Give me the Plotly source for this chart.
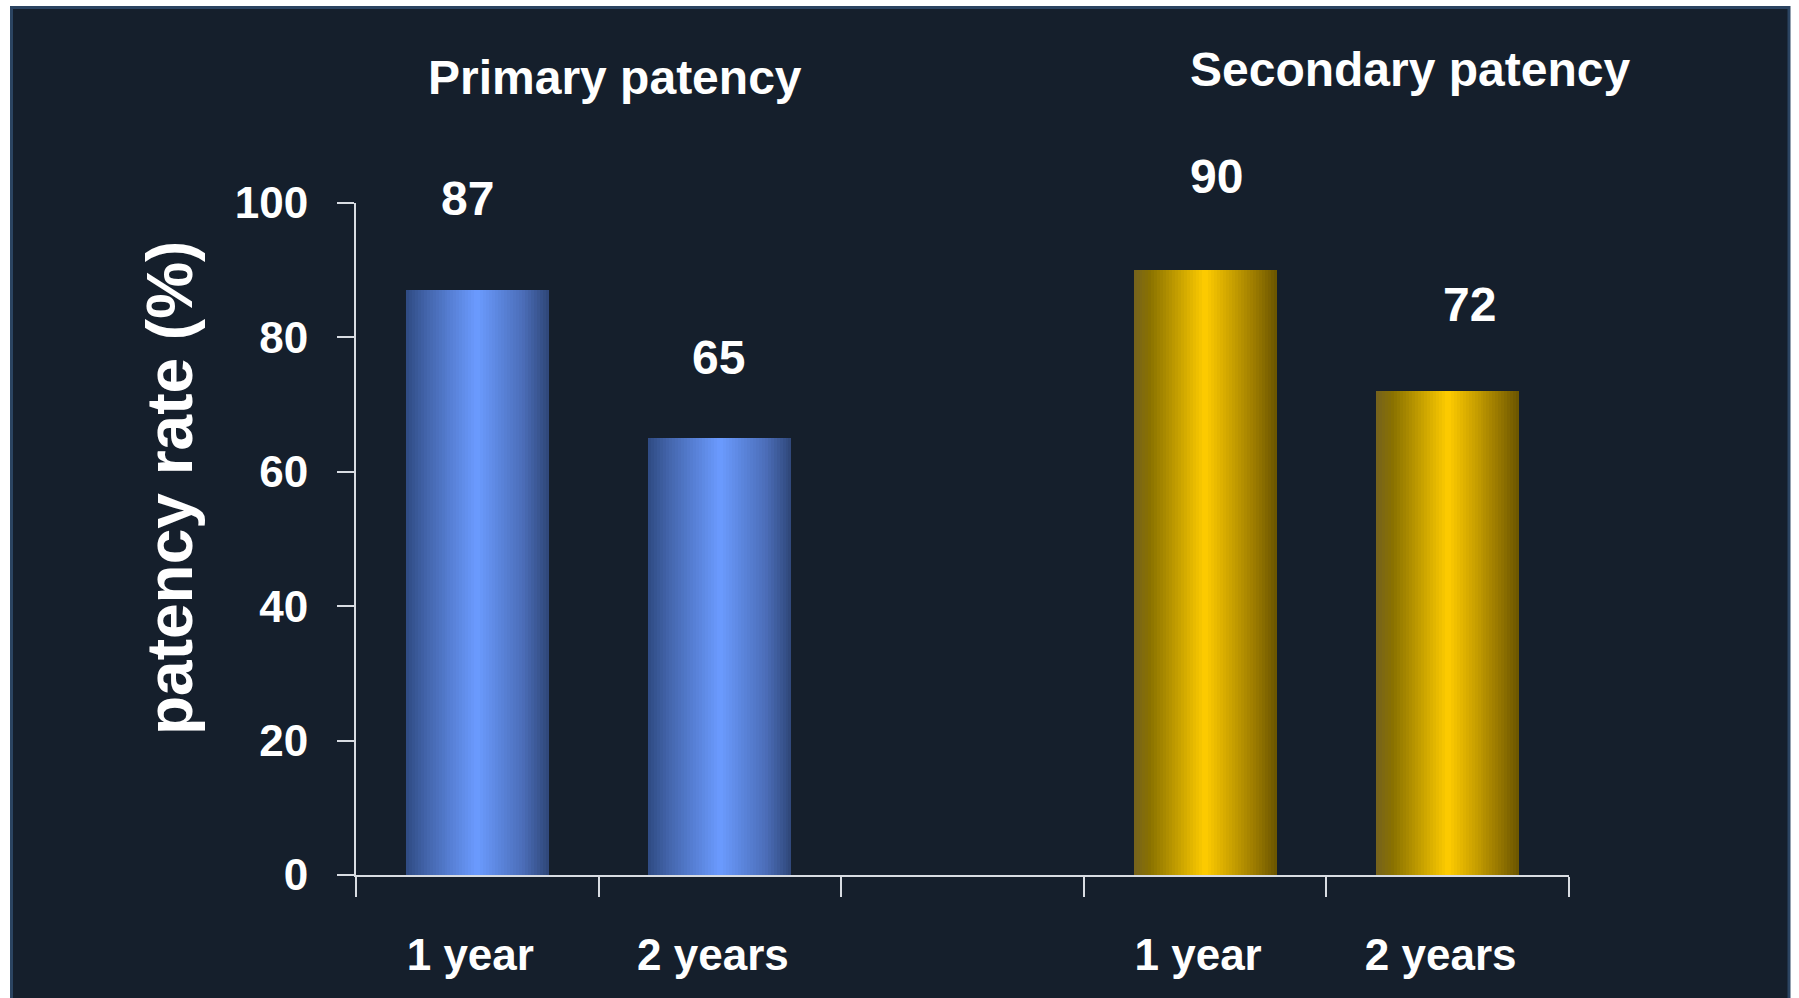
import plotly.graph_objects as go
from plotly.colors import sample_colorscale

# ---- data ----
groups = ["Primary patency", "Secondary patency"]
periods = ["1 year", "2 years"]
primary = [87, 65]
secondary = [90, 72]
y_ticks = [0, 20, 40, 60, 80, 100]

# ---- layout constants ----
W, H = 1799, 998
M_L, M_R, M_T, M_B = 356, 230, 203, 123
PLOT_W = W - M_L - M_R
PLOT_H = H - M_T - M_B

BG = "#151f2c"
AXIS = "#d8dce2"
FONT = "Liberation Sans, Arial, sans-serif"

BLUE_SCALE = [[0.0, "#2f4a82"], [0.15, "#4466ad"], [0.5, "#6b9bff"],
              [0.82, "#4b6db8"], [1.0, "#2e4677"]]
GOLD_SCALE = [[0.0, "#75621e"], [0.12, "#8a7200"], [0.5, "#ffcc00"],
              [0.85, "#9a7a00"], [1.0, "#6a5400"]]

BAR_W = 0.59
N_STRIPS = 48

# category slots: two groups separated by an empty slot
x_primary = [0, 1]
x_secondary = [3, 4]


def px_to_paper_x(px):
    return (px - M_L) / PLOT_W


def px_to_paper_y(py):
    return (H - M_B - py) / PLOT_H


fig = go.Figure()

# each bar is built from thin vertical strips to give a cylinder-like shading
for xs, vals, scale in [(x_primary, primary, BLUE_SCALE),
                        (x_secondary, secondary, GOLD_SCALE)]:
    colors = sample_colorscale(scale, [(j + 0.5) / N_STRIPS for j in range(N_STRIPS)])
    sw = BAR_W / N_STRIPS
    for j, c in enumerate(colors):
        fig.add_trace(go.Bar(
            x=xs, y=vals,
            width=[sw * 1.15 if j < N_STRIPS - 1 else sw] * len(xs),
            offset=[-BAR_W / 2 + j * sw] * len(xs),
            marker=dict(color=c, line=dict(width=0)),
            showlegend=False, hoverinfo="skip",
        ))

# value labels above bars
label_xshift = [-10, -1, 11, 22]
label_yshift = [92, 81, 94, 87]
for k, (x, v) in enumerate(zip(x_primary + x_secondary, primary + secondary)):
    fig.add_annotation(
        x=x, y=v, xref="x", yref="y", text=f"<b>{v}</b>", showarrow=False,
        xanchor="center", yanchor="middle",
        xshift=label_xshift[k], yshift=label_yshift[k],
        font=dict(family=FONT, size=48, color="white"),
    )

# group titles
fig.add_annotation(x=px_to_paper_x(615), y=px_to_paper_y(77), xref="paper", yref="paper",
                   text=f"<b>{groups[0]}</b>", showarrow=False,
                   xanchor="center", yanchor="middle",
                   font=dict(family=FONT, size=48, color="white"))
fig.add_annotation(x=px_to_paper_x(1410), y=px_to_paper_y(70), xref="paper", yref="paper",
                   text=f"<b>{groups[1]}</b>", showarrow=False,
                   xanchor="center", yanchor="middle",
                   font=dict(family=FONT, size=48, color="white"))

# y-axis title
fig.add_annotation(x=px_to_paper_x(170), y=px_to_paper_y(488), xref="paper", yref="paper",
                   text="<b>patency rate (%)</b>", showarrow=False, textangle=-90,
                   xanchor="center", yanchor="middle",
                   font=dict(family=FONT, size=64, color="white"))

# frame: white margin at top/left/right and a steel-blue edge
white_rects = [
    (0, 0, W, 6),
    (0, 0, 10, H),
    (1790, 0, W, H),
]
for x0, y0, x1, y1 in white_rects:
    fig.add_shape(type="rect", xref="paper", yref="paper",
                  x0=px_to_paper_x(x0), x1=px_to_paper_x(x1),
                  y0=px_to_paper_y(y1), y1=px_to_paper_y(y0),
                  fillcolor="white", line=dict(width=0), layer="below")
fig.add_shape(type="rect", xref="paper", yref="paper",
              x0=px_to_paper_x(11.5), x1=px_to_paper_x(1789),
              y0=px_to_paper_y(1005), y1=px_to_paper_y(7.5),
              fillcolor="rgba(0,0,0,0)", line=dict(color="#2b4461", width=3), layer="below")

fig.update_layout(
    width=W, height=H,
    margin=dict(l=M_L, r=M_R, t=M_T, b=M_B, pad=0),
    paper_bgcolor=BG, plot_bgcolor=BG,
    barmode="overlay", bargap=0,
    xaxis=dict(
        range=[-0.5, 4.5], showgrid=False, zeroline=False,
        showline=True, linecolor=AXIS, linewidth=2,
        tickmode="array", tickvals=x_primary + x_secondary,
        ticktext=[f"<b>{p}</b>" for p in periods] * 2,
        ticks="", ticklabelstandoff=40, ticklabelshift=-7,
        tickfont=dict(family=FONT, size=44, color="white"),
        minor=dict(tickmode="array", tickvals=[-0.5, 0.5, 1.5, 2.5, 3.5, 4.5],
                   ticks="outside", ticklen=20, tickwidth=2, tickcolor=AXIS,
                   showgrid=False),
        fixedrange=True,
    ),
    yaxis=dict(
        range=[0, 100], showgrid=False, zeroline=False,
        showline=True, linecolor=AXIS, linewidth=2,
        tickmode="array", tickvals=y_ticks,
        ticktext=[f"<b>{t}</b>" for t in y_ticks],
        ticks="outside", ticklen=17, tickwidth=2, tickcolor=AXIS,
        ticklabelstandoff=20,
        tickfont=dict(family=FONT, size=44, color="white"),
        fixedrange=True,
    ),
    showlegend=False,
)

fig.write_html("out.html", config={"displayModeBar": False})
